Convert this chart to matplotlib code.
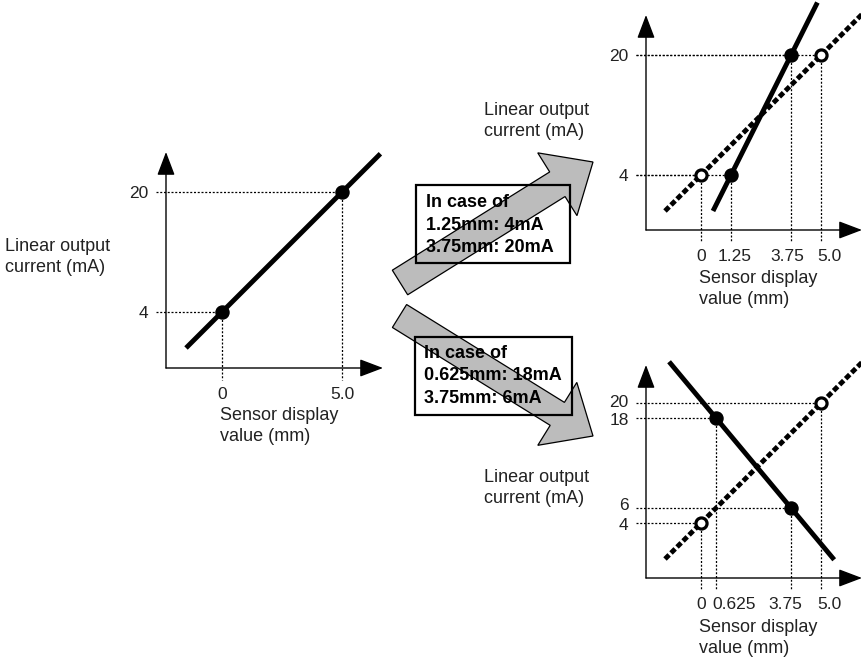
import matplotlib
matplotlib.use("Agg")
import matplotlib.pyplot as plt
import matplotlib.patches as mpatches
from matplotlib.transforms import Affine2D, ScaledTranslation

W, H = 862, 662
plt.rcParams["font.family"] = ["Liberation Sans", "DejaVu Sans"]
plt.rcParams["font.size"] = 13

INK = "black"
TXT = "#222222"
ARROW_GREY = "#bcbcbc"

# ── Data: sensor display value (mm) -> linear output current (mA) ─────────────
# default setting (left panel)
base_pts_x = [0, 5.0]
base_pts_y = [4, 20]
base_line_x = [-1.5, 6.6]
base_line_y = [-0.8, 25.1]

# same default line as drawn (dashed) in the right panels
ref_line_x = [-1.5, 6.7]
ref_line_y = [-0.8, 25.4]

# case 1: 1.25mm -> 4mA, 3.75mm -> 20mA
up_pts_x = [1.25, 3.75]
up_pts_y = [4, 20]
up_line_x = [0.5, 4.85]
up_line_y = [-0.8, 27.0]

# case 2: 0.625mm -> 18mA, 3.75mm -> 6mA
down_pts_x = [0.625, 3.75]
down_pts_y = [18, 6]
down_line_x = [-1.33, 5.55]
down_line_y = [25.5, -0.9]

left_xticks = [0, 5.0]
left_xlabels = ["0", "5.0"]
left_yticks = [4, 20]

up_xticks = [0, 1.25, 3.75, 5.0]
up_xlabels = ["0", "1.25", "3.75", "5.0"]
up_yticks = [4, 20]

down_xticks = [0, 0.625, 3.75, 5.0]
down_xlabels = ["0", "0.625", "3.75", "5.0"]
down_yticks = [4, 6, 18, 20]

PX_MM = 24.0   # pixels per mm
PX_MA = 7.5    # pixels per mA

fig = plt.figure(figsize=(W / 100, H / 100), dpi=100)
fig.patch.set_facecolor("white")
# pixel coordinates measured from the top-left corner
pix = Affine2D().scale(1 / W, -1 / H).translate(0, 1) + fig.transFigure


def make_panel(ox, oy, x0px, y4px, width, height):
    """ox, oy: origin pixel (top-left based); x0px / y4px: pixel of x=0 / y=4."""
    ax = fig.add_axes([ox / W, (H - oy) / H, width / W, height / H])
    xmin = -(x0px - ox) / PX_MM
    ymin = 4 - (oy - y4px) / PX_MA
    ax.set_xlim(xmin, xmin + width / PX_MM)
    ax.set_ylim(ymin, ymin + height / PX_MA)
    ax.patch.set_alpha(0)
    for s in ax.spines.values():
        s.set_visible(False)
    ax.tick_params(length=0, labelsize=12.5, labelcolor=TXT)
    ax.tick_params(axis="x", pad=13.5)
    ax.tick_params(axis="y", pad=12.5)
    arrow = dict(arrowstyle="-|>,head_length=1.45,head_width=0.55",
                 mutation_scale=10, lw=1.0, color=INK, shrinkA=0, shrinkB=0)
    ax.annotate("", xy=(1, 0), xytext=(0, 0), xycoords="axes fraction",
                arrowprops=arrow)
    ax.annotate("", xy=(0, 1), xytext=(0, 0), xycoords="axes fraction",
                arrowprops=arrow)
    return ax


def nudge(labels, offsets, axis="x"):
    # spread crowded tick labels a few pixels apart, like the original sketch
    for lab, d in zip(labels, offsets):
        if d:
            dx, dy = (d / 100, 0) if axis == "x" else (0, d / 100)
            lab.set_transform(lab.get_transform() +
                              ScaledTranslation(dx, dy, fig.dpi_scale_trans))


def guides(ax, xs, ys):
    xmin = ax.get_xlim()[0]
    ymin = ax.get_ylim()[0]
    for x, y in zip(xs, ys):
        ax.plot([xmin - 10 / PX_MM, x], [y, y], color=INK, lw=0.9,
                ls=(0, (1.6, 1.4)), clip_on=False, zorder=1)
        ax.plot([x, x], [y, ymin - 12 / PX_MA], color=INK, lw=0.9,
                ls=(0, (1.6, 1.4)), clip_on=False, zorder=1)


def filled(ax, xs, ys):
    ax.plot(xs, ys, "o", ms=9.4, color=INK, clip_on=False, zorder=5)


def hollow(ax, xs, ys):
    ax.plot(xs, ys, "o", ms=8.0, mfc="white", mec=INK, mew=2.3,
            clip_on=False, zorder=6)


# ── Left panel: default ───────────────────────────────────────────────────────
axL = make_panel(166, 368, 222, 312, 217, 216)
guides(axL, base_pts_x, base_pts_y)
axL.plot(base_line_x, base_line_y, color=INK, lw=3.5, solid_capstyle="butt",
         clip_on=False, zorder=3)
filled(axL, base_pts_x, base_pts_y)
axL.set_xticks(left_xticks, left_xlabels)
axL.set_yticks(left_yticks)

# ── Top right: 1.25mm 4mA / 3.75mm 20mA ───────────────────────────────────────
axU = make_panel(646, 230, 701, 175, 216, 215)
guides(axU, up_pts_x + base_pts_x, up_pts_y + base_pts_y)
axU.plot(ref_line_x, ref_line_y, color=INK, lw=3.5, ls=(0, (1.2, 0.55)),
         clip_on=False, zorder=3)
axU.plot(up_line_x, up_line_y, color=INK, lw=3.5, solid_capstyle="butt",
         clip_on=False, zorder=4)
filled(axU, up_pts_x, up_pts_y)
hollow(axU, base_pts_x, base_pts_y)
axU.set_xticks(up_xticks, up_xlabels)
axU.set_yticks(up_yticks)
nudge(axU.get_xticklabels(), [0, 4, -4, 8])

# ── Bottom right: 0.625mm 18mA / 3.75mm 6mA ───────────────────────────────────
axD = make_panel(646, 578, 701, 523, 216, 213)
guides(axD, down_pts_x + base_pts_x, down_pts_y + base_pts_y)
axD.plot(ref_line_x, ref_line_y, color=INK, lw=3.5, ls=(0, (1.2, 0.55)),
         clip_on=False, zorder=3)
axD.plot(down_line_x, down_line_y, color=INK, lw=3.5, solid_capstyle="butt",
         clip_on=False, zorder=4)
filled(axD, down_pts_x, down_pts_y)
hollow(axD, base_pts_x, base_pts_y)
axD.set_xticks(down_xticks, down_xlabels)
axD.set_yticks(down_yticks)
nudge(axD.get_xticklabels(), [0, 18, -6, 8])
nudge(axD.get_yticklabels(), [-1, 4, -1, 2], axis="y")

# ── Grey transition arrows + note boxes ───────────────────────────────────────
for (x0, y0, x1, y1, w) in [(400, 282.5, 593, 162, 29),
                            (399.5, 316, 593, 436, 27)]:
    fig.patches.append(mpatches.FancyArrow(
        x0, y0, x1 - x0, y1 - y0, width=w, head_width=74, head_length=42,
        length_includes_head=True, transform=pix, facecolor=ARROW_GREY,
        edgecolor=INK, lw=0.9, zorder=1))

for (bx, by, bw, bh) in [(416, 185, 154, 78), (415, 337, 157, 78)]:
    fig.patches.append(mpatches.Rectangle(
        (bx, by), bw, bh, transform=pix, fill=False, edgecolor=INK,
        lw=1.6, zorder=2))

fig.text(426, 225, "In case of\n1.25mm: 4mA\n3.75mm: 20mA", transform=pix,
         fontsize=13, fontweight="bold", va="center", ha="left",
         linespacing=1.42, zorder=3)
fig.text(424, 376, "In case of\n0.625mm: 18mA\n3.75mm: 6mA", transform=pix,
         fontsize=13, fontweight="bold", va="center", ha="left",
         linespacing=1.42, zorder=3)

# ── Axis titles ───────────────────────────────────────────────────────────────
ylab = "Linear output\ncurrent (mA)"
xlab = "Sensor display\nvalue (mm)"
for (tx, ty, s) in [(5, 257, ylab), (484, 121, ylab), (484, 488, ylab),
                    (220, 426, xlab), (699, 289, xlab), (699, 638, xlab)]:
    fig.text(tx, ty, s, transform=pix, fontsize=13, color=TXT,
             va="center", ha="left", linespacing=1.36)

fig.savefig("out.png", dpi=100, facecolor="white")
